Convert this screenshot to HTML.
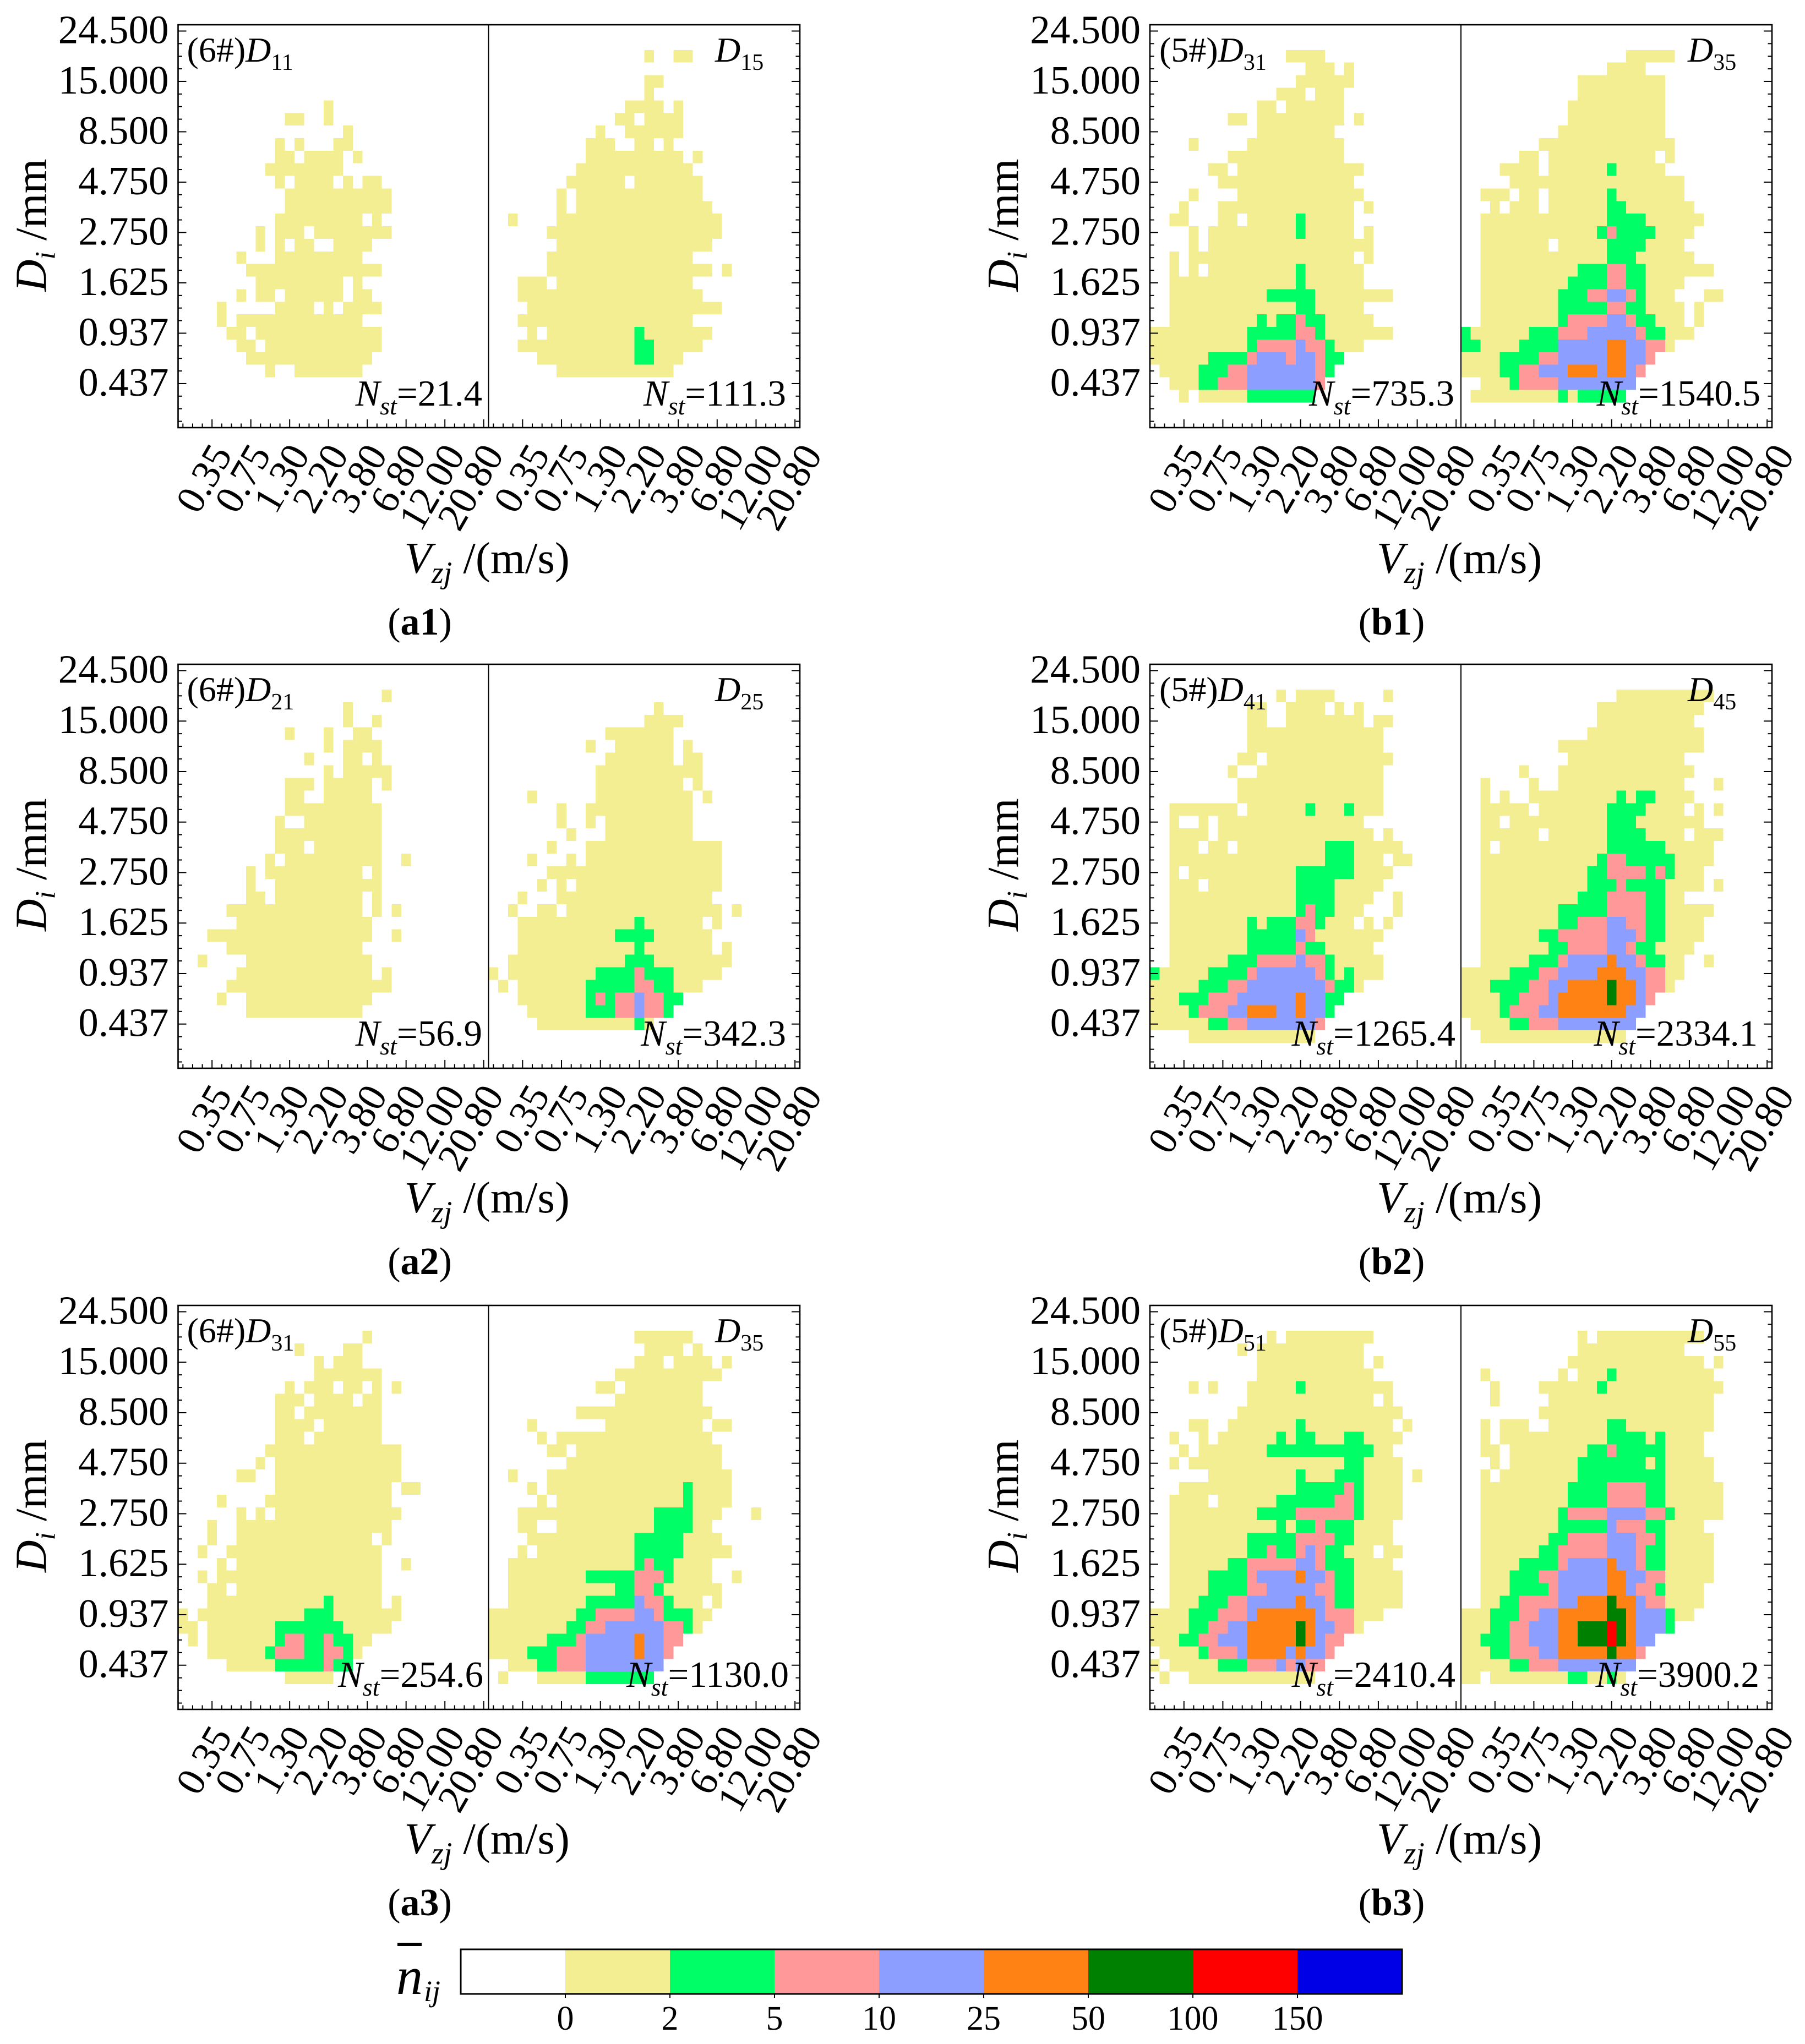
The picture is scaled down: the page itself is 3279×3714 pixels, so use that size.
<!DOCTYPE html>
<html lang="en">
<head>
<meta charset="utf-8">
<title>Raindrop size and velocity spectra</title>
<style>
html,body{margin:0;padding:0;background:#fff}
svg{display:block}
text{font-family:"Liberation Serif",serif;fill:#000}
.it{font-style:italic}
.axt{font-size:81px}
.lab{font-size:70px}
.ann{font-size:64px}
.nst{font-size:67px}
</style>
</head>
<body>
<svg id="figure" width="3279" height="3714" viewBox="0 0 3279 3714">
<rect x="0" y="0" width="3279" height="3714" fill="#fff"/>
<g id="cells"></g>
<g id="axes"></g>

<g transform="translate(323.5,45)">
<text class="axt" transform="translate(-240,485) rotate(-90)"><tspan class="it">D</tspan><tspan class="it" font-size="52" dy="16">i</tspan><tspan dy="-16" dx="20">/mm</tspan></text>
<text class="axt" x="411" y="996"><tspan class="it">V</tspan><tspan class="it" font-size="56" dy="18">zj</tspan><tspan dy="-18" dx="20">/(m/s)</tspan></text>
<text class="lab" x="439" y="1108" text-anchor="middle">(<tspan font-weight="bold">a1</tspan>)</text>
<text class="ann" x="16" y="67">(6#)<tspan class="it">D</tspan><tspan font-size="42" dy="15">11</tspan></text>
<text class="ann" x="975.5" y="67"><tspan class="it">D</tspan><tspan font-size="42" dy="15">15</tspan></text>
<text class="nst" x="552.5" y="692" text-anchor="end"><tspan class="it">N</tspan><tspan class="it" font-size="46" dy="16">st</tspan><tspan dy="-16">=21.4</tspan></text>
<text class="nst" x="1104.5" y="692" text-anchor="end"><tspan class="it">N</tspan><tspan class="it" font-size="46" dy="16">st</tspan><tspan dy="-16">=111.3</tspan></text>
</g>

<g transform="translate(2089,45)">
<text class="axt" transform="translate(-240,485) rotate(-90)"><tspan class="it">D</tspan><tspan class="it" font-size="52" dy="16">i</tspan><tspan dy="-16" dx="20">/mm</tspan></text>
<text class="axt" x="412" y="996"><tspan class="it">V</tspan><tspan class="it" font-size="56" dy="18">zj</tspan><tspan dy="-18" dx="20">/(m/s)</tspan></text>
<text class="lab" x="439" y="1108" text-anchor="middle">(<tspan font-weight="bold">b1</tspan>)</text>
<text class="ann" x="17" y="67">(5#)<tspan class="it">D</tspan><tspan font-size="42" dy="15">31</tspan></text>
<text class="ann" x="977" y="67"><tspan class="it">D</tspan><tspan font-size="42" dy="15">35</tspan></text>
<text class="nst" x="553" y="692" text-anchor="end"><tspan class="it">N</tspan><tspan class="it" font-size="46" dy="16">st</tspan><tspan dy="-16">=735.3</tspan></text>
<text class="nst" x="1109" y="692" text-anchor="end"><tspan class="it">N</tspan><tspan class="it" font-size="46" dy="16">st</tspan><tspan dy="-16">=1540.5</tspan></text>
</g>

<g transform="translate(323.5,1207)">
<text class="axt" transform="translate(-240,485) rotate(-90)"><tspan class="it">D</tspan><tspan class="it" font-size="52" dy="16">i</tspan><tspan dy="-16" dx="20">/mm</tspan></text>
<text class="axt" x="411" y="996"><tspan class="it">V</tspan><tspan class="it" font-size="56" dy="18">zj</tspan><tspan dy="-18" dx="20">/(m/s)</tspan></text>
<text class="lab" x="439" y="1108" text-anchor="middle">(<tspan font-weight="bold">a2</tspan>)</text>
<text class="ann" x="16" y="67">(6#)<tspan class="it">D</tspan><tspan font-size="42" dy="15">21</tspan></text>
<text class="ann" x="975.5" y="67"><tspan class="it">D</tspan><tspan font-size="42" dy="15">25</tspan></text>
<text class="nst" x="552.5" y="693" text-anchor="end"><tspan class="it">N</tspan><tspan class="it" font-size="46" dy="16">st</tspan><tspan dy="-16">=56.9</tspan></text>
<text class="nst" x="1104.5" y="693" text-anchor="end"><tspan class="it">N</tspan><tspan class="it" font-size="46" dy="16">st</tspan><tspan dy="-16">=342.3</tspan></text>
</g>

<g transform="translate(2089,1207)">
<text class="axt" transform="translate(-240,485) rotate(-90)"><tspan class="it">D</tspan><tspan class="it" font-size="52" dy="16">i</tspan><tspan dy="-16" dx="20">/mm</tspan></text>
<text class="axt" x="412" y="996"><tspan class="it">V</tspan><tspan class="it" font-size="56" dy="18">zj</tspan><tspan dy="-18" dx="20">/(m/s)</tspan></text>
<text class="lab" x="439" y="1108" text-anchor="middle">(<tspan font-weight="bold">b2</tspan>)</text>
<text class="ann" x="17" y="67">(5#)<tspan class="it">D</tspan><tspan font-size="42" dy="15">41</tspan></text>
<text class="ann" x="977" y="67"><tspan class="it">D</tspan><tspan font-size="42" dy="15">45</tspan></text>
<text class="nst" x="555" y="693" text-anchor="end"><tspan class="it">N</tspan><tspan class="it" font-size="46" dy="16">st</tspan><tspan dy="-16">=1265.4</tspan></text>
<text class="nst" x="1104" y="693" text-anchor="end"><tspan class="it">N</tspan><tspan class="it" font-size="46" dy="16">st</tspan><tspan dy="-16">=2334.1</tspan></text>
</g>

<g transform="translate(323.5,2372)">
<text class="axt" transform="translate(-240,485) rotate(-90)"><tspan class="it">D</tspan><tspan class="it" font-size="52" dy="16">i</tspan><tspan dy="-16" dx="20">/mm</tspan></text>
<text class="axt" x="411" y="996"><tspan class="it">V</tspan><tspan class="it" font-size="56" dy="18">zj</tspan><tspan dy="-18" dx="20">/(m/s)</tspan></text>
<text class="lab" x="439" y="1108" text-anchor="middle">(<tspan font-weight="bold">a3</tspan>)</text>
<text class="ann" x="16" y="67">(6#)<tspan class="it">D</tspan><tspan font-size="42" dy="15">31</tspan></text>
<text class="ann" x="975.5" y="67"><tspan class="it">D</tspan><tspan font-size="42" dy="15">35</tspan></text>
<text class="nst" x="554.5" y="693" text-anchor="end"><tspan class="it">N</tspan><tspan class="it" font-size="46" dy="16">st</tspan><tspan dy="-16">=254.6</tspan></text>
<text class="nst" x="1109.5" y="693" text-anchor="end"><tspan class="it">N</tspan><tspan class="it" font-size="46" dy="16">st</tspan><tspan dy="-16">=1130.0</tspan></text>
</g>

<g transform="translate(2089,2372)">
<text class="axt" transform="translate(-240,485) rotate(-90)"><tspan class="it">D</tspan><tspan class="it" font-size="52" dy="16">i</tspan><tspan dy="-16" dx="20">/mm</tspan></text>
<text class="axt" x="412" y="996"><tspan class="it">V</tspan><tspan class="it" font-size="56" dy="18">zj</tspan><tspan dy="-18" dx="20">/(m/s)</tspan></text>
<text class="lab" x="439" y="1108" text-anchor="middle">(<tspan font-weight="bold">b3</tspan>)</text>
<text class="ann" x="17" y="67">(5#)<tspan class="it">D</tspan><tspan font-size="42" dy="15">51</tspan></text>
<text class="ann" x="977" y="67"><tspan class="it">D</tspan><tspan font-size="42" dy="15">55</tspan></text>
<text class="nst" x="555" y="693" text-anchor="end"><tspan class="it">N</tspan><tspan class="it" font-size="46" dy="16">st</tspan><tspan dy="-16">=2410.4</tspan></text>
<text class="nst" x="1107" y="693" text-anchor="end"><tspan class="it">N</tspan><tspan class="it" font-size="46" dy="16">st</tspan><tspan dy="-16">=3900.2</tspan></text>
</g>

<g id="colorbar"></g>
<g>
<rect x="722" y="3530" width="44" height="6" fill="#000"/>
<text class="it" x="720" y="3623" font-size="96">n</text>
<text class="it" x="770" y="3636" font-size="54">ij</text>
</g>
</svg>

<script>
const xTickLabels = ["0.35","0.75","1.30","2.20","3.80","6.80","12.00","20.80"];
const yTickLabels = ["24.500","15.000","8.500","4.750","2.750","1.625","0.937","0.437"];
const binLabels = [0,2,5,10,25,50,100,150];
const binColors = ["#ffffff","#f4ee92","#00ff66","#ff9999","#8c9eff","#ff8214","#008000","#ff0000","#0000e6"];

/* Each array: one row per Di class (top = largest), one number per Vzj class; the number is the colour-bin index. Trailing empty cells omitted. */
const a1Left = [[],[],[],[],[],[],
[0,0,0,0,0,0,0,0,0,0,0,0,0,0,0,1],
[0,0,0,0,0,0,0,0,0,0,0,1,1,0,0,1],
[0,0,0,0,0,0,0,0,0,0,0,0,0,0,0,0,0,1],
[0,0,0,0,0,0,0,0,0,0,1,0,1,0,0,0,1,1],
[0,0,0,0,0,0,0,0,0,0,1,1,0,1,1,1,1,0,1],
[0,0,0,0,0,0,0,0,0,1,1,1,1,1,1,1,1],
[0,0,0,0,0,0,0,0,0,0,1,0,1,1,1,1,0,1,0,1,1],
[0,0,0,0,0,0,0,0,0,0,0,1,1,1,1,1,1,1,1,1,1,1],
[0,0,0,0,0,0,0,0,0,0,0,1,1,1,1,1,1,1,1,1,1,1],
[0,0,0,0,0,0,0,0,0,0,1,1,1,1,1,1,1,1,1,0,1],
[0,0,0,0,0,0,0,0,1,0,1,1,1,0,1,1,1,1,1,1,1,1],
[0,0,0,0,0,0,0,0,1,0,1,0,1,1,0,0,1,1,1,1],
[0,0,0,0,0,0,1,0,0,0,1,1,1,1,1,1,1,1,1],
[0,0,0,0,0,0,0,1,1,1,1,1,1,1,1,1,1,1,1,1,1],
[0,0,0,0,0,0,0,0,1,1,1,1,1,1,1,1,1,0,1],
[0,0,0,0,0,0,1,0,1,1,0,1,1,1,1,1,1,0,1,1],
[0,0,0,0,1,0,0,0,0,0,1,1,1,1,0,1,0,1,1,1,1],
[0,0,0,0,1,0,1,1,1,1,1,1,1,1,1,1,1,1,1],
[0,0,0,0,0,1,1,0,1,1,1,1,1,1,1,1,1,1,1,1,1],
[0,0,0,0,0,0,1,1,0,1,1,1,1,1,1,1,1,1,1,1,1],
[0,0,0,0,0,0,0,1,1,1,1,1,1,1,1,1,1,1,1,1],
[0,0,0,0,0,0,0,0,0,1,0,0,1,1,1,1,1,1,1]];

const a1Right = [[],[],
[0,0,0,0,0,0,0,0,0,0,0,0,0,0,0,0,1,0,0,1,1],
[],
[0,0,0,0,0,0,0,0,0,0,0,0,0,0,0,0,1,1],
[0,0,0,0,0,0,0,0,0,0,0,0,0,0,0,0,1],
[0,0,0,0,0,0,0,0,0,0,0,0,0,0,1,1,1,1,0,1],
[0,0,0,0,0,0,0,0,0,0,0,0,0,1,1,0,1,1,1,1],
[0,0,0,0,0,0,0,0,0,0,0,1,0,0,1,1,1,1,1,1],
[0,0,0,0,0,0,0,0,0,0,1,1,1,0,0,1,1,0,1],
[0,0,0,0,0,0,0,0,0,0,1,1,1,1,1,1,1,1,1,1,0,1],
[0,0,0,0,0,0,0,0,0,1,1,1,1,1,1,1,1,1,1,1,1],
[0,0,0,0,0,0,0,0,1,1,1,1,1,1,0,1,1,1,1,1,1,1],
[0,0,0,0,0,0,0,1,0,1,1,1,1,1,1,1,1,1,1,1,1,1],
[0,0,0,0,0,0,0,1,0,1,1,1,1,1,1,1,1,1,1,1,1,1,1],
[0,0,1,0,0,0,0,1,1,1,1,1,1,1,1,1,1,1,1,1,1,1,1,1],
[0,0,0,0,0,0,1,1,1,1,1,1,1,1,1,1,1,1,1,1,1,1,1,1],
[0,0,0,0,0,0,0,1,1,1,1,1,1,1,1,1,1,1,1,1,1,1,1],
[0,0,0,0,0,0,1,1,1,1,1,1,1,1,1,1,1,1,1,1,1],
[0,0,0,0,0,0,1,1,1,1,1,1,1,1,1,1,1,1,1,1,1,1,1,0,1],
[0,0,0,1,1,1,0,1,1,1,1,1,1,1,1,1,1,1,1,1,1],
[0,0,0,1,1,1,1,1,1,1,1,1,1,1,1,1,1,1,1,1,1,1],
[0,0,0,0,1,1,1,1,1,1,1,1,1,1,1,1,1,1,1,1,1,1,1,1],
[0,0,0,1,1,1,1,1,1,1,1,1,1,1,1,1,1,1,1,1,1],
[0,0,0,0,1,0,1,1,1,1,1,1,1,1,1,2,1,1,1,1,1,1,1],
[0,0,0,1,1,1,1,1,1,1,1,1,1,1,1,2,2,1,1,1,1,1],
[0,0,0,0,0,1,1,1,1,1,1,1,1,1,1,2,2,1,1,1],
[0,0,0,0,0,0,0,1,1,1,1,1,1,1,1,1,1,1,1]];

const b1Left = [[],[],
[0,0,0,0,0,0,0,0,0,0,0,0,0,0,1,1,1,1],
[0,0,0,0,0,0,0,0,0,0,0,0,0,0,0,0,1,1,1,0,1],
[0,0,0,0,0,0,0,0,0,0,0,0,0,0,0,1,1,1,1,1,1],
[0,0,0,0,0,0,0,0,0,0,0,0,0,1,1,1,0,1,1,1],
[0,0,0,0,0,0,0,0,0,0,0,1,1,0,1,1,1,1,1,1],
[0,0,0,0,0,0,0,0,1,1,0,1,1,1,1,1,1,1,1,1,0,1],
[0,0,0,0,0,0,0,0,0,0,0,1,1,1,1,1,1,1,1],
[0,0,0,0,1,0,0,0,0,0,1,1,1,1,1,1,1,1,1,1],
[0,0,0,0,0,0,0,0,1,1,1,1,1,1,1,1,1,1,1,1],
[0,0,0,0,0,0,1,1,0,1,1,1,1,1,1,1,1,1,1,1,1,1],
[0,0,0,0,0,0,0,1,1,1,1,1,1,1,1,1,1,1,1,1,1],
[0,0,0,0,1,0,0,0,0,1,1,1,1,1,1,1,1,1,1,1,1,1],
[0,0,0,1,0,0,0,1,1,1,1,1,1,1,1,1,1,1,1,1,1,0,1],
[0,0,1,1,0,0,0,1,1,0,1,1,1,1,1,2,1,1,1,1,1],
[0,0,0,0,1,0,1,1,1,1,1,1,1,1,1,2,1,1,1,1,1,0,1],
[0,0,0,0,1,0,1,1,1,1,1,1,1,1,1,1,1,1,1,1,1,1,1],
[0,0,1,0,1,1,1,1,1,1,1,1,1,1,1,1,1,1,1,1,1,0,1],
[0,0,1,0,1,0,1,1,1,1,1,1,1,1,1,2,1,1,1,1,1,1],
[0,0,1,1,1,1,1,1,1,1,1,1,1,1,1,2,1,1,1,1,1,1],
[0,0,1,1,1,1,1,1,1,1,1,1,2,2,2,2,2,1,1,1,1,1,1,1,1],
[0,0,1,1,1,1,1,1,1,1,1,1,1,1,1,2,2,1,1,1,1,1],
[0,0,1,1,1,1,1,1,1,1,1,2,1,2,2,3,2,2,1,1,1,1,1],
[1,1,1,1,1,1,1,1,1,1,2,2,2,2,2,3,3,2,1,1,1,1,1,1,1],
[1,1,1,1,1,1,1,1,1,1,2,3,3,3,3,4,3,3,2,1,1,1],
[1,1,1,1,1,1,2,2,2,2,3,4,4,4,3,4,4,3,2,2],
[0,1,1,1,1,2,2,2,3,3,4,4,4,4,4,4,4,3,2],
[0,0,1,1,1,2,2,3,3,3,4,4,4,4,4,4,4,3],
[0,0,0,1,0,1,1,1,1,1,2,2,2,2,2,2,2]];

const b1Right = [[],[],
[0,0,0,0,0,0,0,0,0,0,0,0,0,0,0,0,0,1,1,1,1,1],
[0,0,0,0,0,0,0,0,0,0,0,0,0,0,0,1,1,1,1],
[0,0,0,0,0,0,0,0,0,0,0,0,1,1,1,1,1,1,1,1,1],
[0,0,0,0,0,0,0,0,0,0,0,0,1,1,1,1,1,1,1,1,1],
[0,0,0,0,0,0,0,0,0,0,0,1,1,1,1,1,1,1,1,1,1],
[0,0,0,0,0,0,0,0,0,0,0,1,1,1,1,1,1,1,1,1,1],
[0,0,0,0,0,0,0,0,0,0,1,1,1,1,1,1,1,1,1,1,1],
[0,0,0,0,0,0,0,0,1,1,1,1,1,1,1,1,1,1,1,1,1,1],
[0,0,0,0,0,0,1,1,0,1,1,1,1,1,1,1,1,1,1,1,0,1],
[0,0,0,0,1,1,1,1,0,1,1,1,1,1,1,2,1,1,1,1,1],
[0,0,0,0,0,1,1,1,1,1,1,1,1,1,1,1,1,1,1,1,1,1,1],
[0,0,1,1,1,0,1,1,0,1,1,1,1,1,1,2,1,1,1,1,1,1,1],
[0,0,0,1,0,1,1,1,0,1,1,1,1,1,1,2,2,1,1,1,1,1,1,1],
[0,0,1,1,1,1,1,1,1,1,1,1,1,1,1,2,2,2,2,1,1,1,1,1,1],
[0,0,1,1,1,1,1,1,1,1,1,1,1,1,2,3,2,2,2,2,1,1,1,1],
[0,0,1,1,1,1,1,1,1,0,1,1,1,1,1,2,2,2,2,1,1,1,1],
[0,0,1,1,1,1,1,1,1,1,1,1,1,1,1,2,2,2,1,1,1,1,1,1],
[0,0,1,1,1,1,1,1,1,1,1,1,2,2,2,3,3,2,2,1,1,1,1,1,1,1],
[0,0,1,1,1,1,1,1,1,1,1,2,2,2,2,3,3,2,2,1,1,1,1],
[0,0,1,1,1,1,1,1,1,1,2,2,2,3,3,4,4,3,2,1,1,1,0,0,0,1,1],
[0,0,1,1,1,1,1,1,1,1,2,2,2,2,2,3,3,2,2,1,1,1,1,0,1],
[0,0,1,1,1,1,1,1,1,1,2,3,3,3,3,4,4,3,2,2,1,1,1,0,1],
[2,1,1,1,1,1,1,2,2,2,3,3,3,4,4,4,4,4,3,2,2,1,1,1],
[2,2,1,1,1,1,2,2,2,2,4,4,4,4,4,5,5,4,4,3,3,1],
[1,1,1,1,2,2,2,2,3,3,4,4,4,4,4,5,5,4,4,3],
[1,1,1,1,2,2,3,3,4,4,4,5,5,5,4,5,5,4,3],
[0,0,1,1,1,2,3,3,3,3,4,4,4,4,4,4,4,4],
[0,1,1,1,1,1,1,1,1,1,2,1,2,2,2,2,2]];

const a2Left = [[],[],
[0,0,0,0,0,0,0,0,0,0,0,0,0,0,0,0,0,0,0,0,0,1],
[0,0,0,0,0,0,0,0,0,0,0,0,0,0,0,0,0,1],
[0,0,0,0,0,0,0,0,0,0,0,0,0,0,0,0,0,1,0,0,1],
[0,0,0,0,0,0,0,0,0,0,0,1,0,0,0,1,0,0,1,1],
[0,0,0,0,0,0,0,0,0,0,0,0,0,0,0,1,0,1,1,1,1],
[0,0,0,0,0,0,0,0,0,0,0,0,0,1,0,0,0,1,1,0,1],
[0,0,0,0,0,0,0,0,0,0,0,0,0,0,0,1,0,1,1,1,1,1],
[0,0,0,0,0,0,0,0,0,0,0,1,1,1,0,1,1,1,1,1,0,1],
[0,0,0,0,0,0,0,0,0,0,0,1,1,0,0,1,1,1,1,1],
[0,0,0,0,0,0,0,0,0,0,0,1,1,1,1,1,1,1,1,1,1],
[0,0,0,0,0,0,0,0,0,0,1,0,0,1,1,1,1,1,1,1,1],
[0,0,0,0,0,0,0,0,0,0,1,1,1,1,1,1,1,1,1,1,1],
[0,0,0,0,0,0,0,0,0,0,1,1,1,0,1,1,1,1,1,1,1],
[0,0,0,0,0,0,0,0,0,1,0,1,1,1,1,1,1,1,1,1,1,0,0,1],
[0,0,0,0,0,0,0,1,0,1,1,1,1,1,1,1,1,1,1,0,1],
[0,0,0,0,0,0,0,1,0,0,1,1,1,1,1,1,1,1,1,1,1],
[0,0,0,0,0,0,0,1,1,0,1,1,1,1,1,1,1,1,1,0,1],
[0,0,0,0,0,1,1,1,1,1,1,1,1,1,1,1,1,1,1,0,1,0,1],
[0,0,0,0,0,0,1,1,1,1,1,1,1,1,1,1,1,1,1,1],
[0,0,0,1,1,1,1,1,1,1,1,1,1,1,1,1,1,1,1,1,0,0,1],
[0,0,0,0,0,1,1,1,1,1,1,1,1,1,1,1,1,1,1],
[0,0,1,0,0,0,0,1,1,1,1,1,1,1,1,1,1,1,1,1],
[0,0,0,0,0,0,1,1,1,1,1,1,1,1,1,1,1,1,1,1,0,1],
[0,0,0,0,0,1,1,1,1,1,1,1,1,1,1,1,1,1,1,1,1,1],
[0,0,0,0,1,0,0,1,1,1,1,1,1,1,1,1,1,1,1,1],
[0,0,0,0,0,0,0,1,1,1,1,1,1,1,1,1,1,1,1]];

const a2Right = [[],[],[],
[0,0,0,0,0,0,0,0,0,0,0,0,0,0,0,0,0,1],
[0,0,0,0,0,0,0,0,0,0,0,0,0,0,0,0,1,1,1,1],
[0,0,0,0,0,0,0,0,0,0,0,0,1,1,1,1,1,1,1],
[0,0,0,0,0,0,0,0,0,0,1,0,0,1,1,1,1,1,1,0,1],
[0,0,0,0,0,0,0,0,0,0,0,0,1,1,1,1,1,1,1,0,1,1],
[0,0,0,0,0,0,0,0,0,0,0,1,1,1,1,1,1,1,1,1,1,1],
[0,0,0,0,0,0,0,0,0,0,0,1,1,1,1,1,1,1,1,1,0,1],
[0,0,0,0,1,0,0,0,0,0,0,1,1,1,1,1,1,1,1,1,1,0,1],
[0,0,0,0,0,0,0,1,0,0,1,1,1,1,1,1,1,1,1,1,1],
[0,0,0,0,0,0,0,1,0,0,1,0,1,1,1,1,1,1,1,1,1],
[0,0,0,0,0,0,0,0,1,0,0,0,1,1,1,1,1,1,1,1,1],
[0,0,0,0,0,0,1,0,0,0,1,1,1,1,1,1,1,1,1,1,1,1,1,1],
[0,0,0,0,1,0,0,0,1,0,1,1,1,1,1,1,1,1,1,1,1,1,1,1],
[0,0,0,0,0,0,1,1,1,1,1,1,1,1,1,1,1,1,1,1,1,1,1,1],
[0,0,0,0,0,1,0,1,0,1,1,1,1,1,1,1,1,1,1,1,1,1,1,1],
[0,0,0,1,0,0,0,1,1,1,1,1,1,1,1,1,1,1,1,1,1,1,1],
[0,0,1,0,0,1,1,0,1,1,1,1,1,1,1,1,1,1,1,1,1,1,1,1,0,1],
[0,0,0,1,1,1,1,1,1,1,1,1,1,1,1,2,1,1,1,1,1,1,0,1],
[0,0,0,1,1,1,1,1,1,1,1,1,1,2,2,2,2,1,1,1,1,1,1],
[0,0,0,1,1,1,1,1,1,1,1,1,1,1,1,2,1,1,1,1,1,1,1,0,1],
[0,0,1,1,1,1,1,1,1,1,1,1,1,1,2,2,2,1,1,1,1,1,1,1,1],
[1,0,1,1,1,1,1,1,1,1,1,2,2,2,2,3,2,2,2,1,1,1,1,1],
[0,1,0,1,1,1,1,1,1,1,2,2,2,2,2,3,3,2,2,1,1,1],
[0,0,0,1,1,1,1,1,1,1,2,3,2,3,3,4,3,3,2,2],
[0,0,0,0,1,1,1,1,1,1,2,2,2,3,3,4,3,3,2],
[0,0,0,0,0,1,1,1,1,1,1,1,1,1,1,2,1]];

const b2Left = [[],[],
[0,0,0,0,0,0,0,0,0,0,0,0,0,1,0,1,1,1,1,0,0,0,0,0,1],
[0,0,0,0,0,0,0,0,0,0,1,1,0,0,1,1,1,1,0,1,0,1],
[0,0,0,0,0,0,0,0,0,0,1,1,0,0,1,1,1,1,1,1,1,1,0,1,1],
[0,0,0,0,0,0,0,0,0,0,1,1,1,1,1,1,1,1,1,1,1,1,1,1],
[0,0,0,0,0,0,0,0,0,0,1,1,1,1,1,1,1,1,1,1,1,1,1,1],
[0,0,0,0,0,0,0,0,0,1,1,0,1,1,1,1,1,1,1,1,1,1,1,1,1],
[0,0,0,0,0,0,0,0,1,0,0,1,1,1,1,1,1,1,1,1,1,1,1,1],
[0,0,0,0,0,0,0,0,0,1,1,1,1,1,1,1,1,1,1,1,1,1,1,1],
[0,0,0,0,0,0,0,0,0,1,1,1,1,1,1,1,1,1,1,1,1,1,1,1],
[0,0,1,1,1,1,1,1,1,0,1,1,1,1,1,1,2,1,1,1,2,1,1,1],
[0,0,1,0,0,1,0,1,1,1,1,1,1,1,1,1,1,1,1,1,1,1],
[0,0,1,1,1,1,0,1,1,1,1,1,1,1,1,1,1,1,1,1,1,1,1,0,1],
[0,0,1,1,1,0,1,1,0,1,1,1,1,1,1,1,1,1,2,2,2,1,1,1,1,1],
[0,0,1,1,1,1,1,1,1,1,1,1,1,1,1,1,1,1,2,2,2,1,1,1,0,1,1],
[0,0,1,0,1,1,1,1,1,1,1,1,1,1,1,2,2,2,2,2,2,1,1,1,1],
[0,0,1,1,1,0,1,1,1,1,1,1,1,1,1,2,2,2,2,1,1,1,1,1],
[0,0,1,1,1,1,1,1,1,1,1,1,1,1,1,2,2,2,2,1,1,1,1,0,0,1],
[0,0,1,1,1,1,1,1,1,1,1,1,1,1,1,2,3,2,2,1,1,1,0,0,0,1],
[0,0,1,1,1,1,1,1,1,1,2,1,2,2,2,3,3,2,1,1,1,0,1,0,1],
[0,0,1,1,1,1,1,1,1,1,2,2,2,2,2,4,3,1,1,1,1,1,1,1],
[0,0,1,1,1,1,1,1,1,1,2,2,2,2,2,3,2,2,1,1,1,1,1],
[0,0,1,1,1,1,1,1,2,2,2,3,3,3,3,4,3,3,2,1,1,1,1,1],
[2,1,1,1,1,1,2,2,2,2,3,4,4,4,4,4,4,3,2,1,2,1,1,1],
[1,1,1,1,1,2,2,2,3,3,4,4,4,4,4,4,4,4,3,2,2,1],
[1,1,1,2,2,2,3,3,3,4,4,4,4,4,4,5,4,4,2,2],
[1,1,1,1,2,3,3,3,4,4,5,5,5,4,4,5,4,4,2],
[1,1,1,1,1,1,2,2,3,3,4,4,4,4,4,4,4,3],
[0,0,0,0,1,1,1,1,1,1,1,1,1,1,1,1,1]];

const b2Right = [[],[],
[0,0,0,0,0,0,0,0,0,0,0,0,0,0,0,0,1,1,1,1,1,1,1,1,1,1],
[0,0,0,0,0,0,0,0,0,0,0,0,0,0,1,1,1,1,1,1,1,1,1,1,1],
[0,0,0,0,0,0,0,0,0,0,0,0,0,0,1,1,1,1,1,1,1,1,1,1],
[0,0,0,0,0,0,0,0,0,0,0,0,0,1,1,1,1,1,1,1,1,1,1,1,1],
[0,0,0,0,0,0,0,0,0,0,1,1,1,1,1,1,1,1,1,1,1,1,1,1,1],
[0,0,0,0,0,0,0,0,0,0,0,1,1,1,1,1,1,1,1,1,1,1,1],
[0,0,0,0,0,0,1,0,0,0,1,1,1,1,1,1,1,1,1,1,1,1,1,1],
[0,0,1,0,0,0,0,1,0,0,1,1,1,1,1,1,1,1,1,1,1,1,1,0,0,0,1],
[0,0,1,0,1,0,0,1,1,1,1,1,1,1,1,1,2,1,2,2,1,1,1,1],
[0,0,1,1,1,1,1,0,1,1,1,1,1,1,1,2,2,2,2,1,1,1,1,0,1,0,1],
[0,0,1,1,0,1,1,1,1,1,1,1,1,1,1,2,2,2,1,1,1,1,1,1,1],
[0,0,1,1,1,1,1,1,0,1,1,1,1,1,1,2,2,2,2,1,1,1,1,0,1,1,1],
[0,0,1,0,1,1,1,1,1,1,1,1,1,1,1,2,2,2,2,2,2,1,1,1,1,1],
[0,0,1,1,1,1,1,1,1,1,1,1,1,1,2,3,3,2,2,2,2,2,1,1,1,1],
[0,0,1,1,1,1,1,1,1,1,1,1,1,2,2,3,3,3,3,2,3,2,1,1,1],
[0,0,1,1,1,1,1,1,1,1,1,1,1,2,2,2,3,2,2,2,2,1,1,1,1,0,1],
[0,0,1,1,1,1,1,1,1,1,1,1,2,2,2,3,3,3,3,2,2,1,1],
[0,0,1,1,1,1,1,1,1,1,2,2,2,2,2,3,3,3,3,2,2,1,1,1,1,1],
[0,0,1,1,1,1,1,1,1,1,2,2,3,3,3,4,4,3,3,2,2,1,1,1,1],
[0,0,1,1,1,1,1,1,2,2,3,3,3,3,3,4,4,4,3,2,2,1,1,1,1],
[0,0,1,1,1,1,1,1,1,2,2,3,3,3,3,4,4,3,2,2,1,1,1,1],
[0,0,1,1,1,1,1,2,2,2,3,4,4,4,4,5,4,4,3,2,2,1,1,0,0,1],
[1,1,1,1,1,2,2,2,3,3,4,4,4,4,5,5,5,4,4,3,3,1,1],
[1,1,1,2,2,2,2,3,3,4,4,5,5,5,5,6,5,5,4,3,3,1],
[1,1,1,1,2,2,3,3,3,4,5,5,5,5,5,6,5,5,4,3],
[1,1,1,1,2,3,3,3,4,4,5,5,5,5,5,5,5,4,4],
[0,1,1,1,1,2,2,3,3,3,4,4,4,4,4,4,4,4],
[0,0,1,1,1,1,1,1,1,1,1,1,1,1,1,1,1]];

const a3Left = [[],[],
[0,0,0,0,0,0,0,0,0,0,0,0,0,0,0,0,0,0,0,1],
[0,0,0,0,0,0,0,0,0,0,0,0,1,0,0,0,0,1,1],
[0,0,0,0,0,0,0,0,0,0,0,0,0,0,1,0,1,1,1],
[0,0,0,0,0,0,0,0,0,0,0,0,0,0,1,1,1,1,1,1,1],
[0,0,0,0,0,0,0,0,0,0,0,1,0,1,1,1,0,1,1,0,1,0,1],
[0,0,0,0,0,0,0,0,0,0,1,1,1,0,1,1,1,1,0,1,1],
[0,0,0,0,0,0,0,0,0,0,1,1,0,1,1,1,1,1,1,1,1],
[0,0,0,0,0,0,0,0,0,0,1,1,1,1,0,1,1,1,1,1,1],
[0,0,0,0,0,0,0,0,0,0,1,1,1,0,1,1,1,1,1,1,1],
[0,0,0,0,0,0,0,0,0,1,1,1,1,1,1,1,1,1,1,1,1,1,1],
[0,0,0,0,0,0,0,0,1,0,1,1,1,1,1,1,1,1,1,1,1,1,1],
[0,0,0,0,0,0,1,1,0,0,1,1,1,1,1,1,1,1,1,1,1,1,1],
[0,0,0,0,0,0,0,0,0,0,1,1,1,1,1,1,1,1,1,1,1,1,0,1,1],
[0,0,0,0,1,0,0,0,0,1,1,1,1,1,1,1,1,1,1,1,1,1],
[0,0,0,0,0,0,1,0,1,0,1,1,1,1,1,1,1,1,1,1,1,1,1],
[0,0,0,1,0,0,1,1,1,1,1,1,1,1,1,1,1,1,1,1,1,1],
[0,0,0,1,0,0,1,1,1,1,1,1,1,1,1,1,1,1,1,1,0,1],
[0,0,1,0,0,1,1,1,1,1,1,1,1,1,1,1,1,1,1,1,1],
[0,0,0,0,1,0,1,1,1,1,1,1,1,1,1,1,1,1,1,1,1,0,0,1],
[0,0,1,0,1,1,1,1,1,1,1,1,1,1,1,1,1,1,1,1,1],
[0,0,0,1,1,0,1,1,1,1,1,1,1,1,1,1,1,1,1,1,1],
[0,0,0,1,1,1,1,1,1,1,1,1,1,1,1,2,1,1,1,1,1,0,1],
[1,0,1,1,1,1,1,1,1,1,1,1,1,2,2,2,1,1,1,1,1,1,1],
[1,1,0,1,1,1,1,1,1,1,2,2,2,2,2,2,2,1,1,1,1,1],
[0,1,0,1,1,1,1,1,1,1,2,3,3,2,2,3,2,2,1,1],
[0,0,0,1,1,1,1,1,1,2,3,3,3,2,2,3,3,2,1],
[0,0,0,0,0,1,1,1,1,1,2,2,2,2,2,3,2,2],
[0,0,0,0,0,0,0,0,0,0,0,1,1,1,1,1]];

const a3Right = [[],[],
[0,0,0,0,0,0,0,0,0,0,0,0,0,0,0,1,1,1,1,1,1],
[0,0,0,0,0,0,0,0,0,0,0,0,0,0,0,0,1,1,1,1,0,1],
[0,0,0,0,0,0,0,0,0,0,0,0,0,0,0,1,1,1,0,1,1,1,1,0,1],
[0,0,0,0,0,0,0,0,0,0,0,0,0,1,1,1,1,1,1,1,1,1,1,1],
[0,0,0,0,0,0,0,0,0,0,0,1,1,0,1,1,1,1,1,1,1,1],
[0,0,0,0,0,0,0,0,0,0,0,0,0,1,1,1,1,1,1,1,1,1],
[0,0,0,0,0,0,0,0,0,1,1,1,1,1,1,1,1,1,1,1,1,1,1],
[0,0,0,0,1,0,0,0,0,0,0,0,1,1,1,1,1,1,1,1,1,1,0,1,1],
[0,0,0,0,0,1,0,1,1,1,1,1,1,1,1,1,1,1,1,1,1,1,1],
[0,0,0,0,0,0,1,1,0,1,1,1,1,1,1,1,1,1,1,1,1,1,1,1],
[0,0,0,0,0,0,0,0,1,1,1,1,1,1,1,1,1,1,1,1,1,1,1,1],
[0,0,1,0,0,0,1,1,1,1,1,1,1,1,1,1,1,1,1,1,1,1,1,1,1],
[0,0,0,0,1,0,1,1,1,1,1,1,1,1,1,1,1,1,1,1,2,1,1,1,1],
[0,0,0,0,0,1,0,1,1,1,1,1,1,1,1,1,1,1,1,1,2,1,1,1,1],
[0,0,0,1,1,1,1,1,1,1,1,1,1,1,1,1,1,2,2,2,2,1,1,1,0,0,0,1],
[0,0,0,1,1,0,0,1,1,1,1,1,1,1,1,1,1,2,2,2,2,1,1],
[0,0,0,0,1,1,1,1,1,1,1,1,1,1,1,2,2,2,2,2,1,1,1,1],
[0,0,0,1,0,1,1,1,1,1,1,1,1,1,1,2,2,2,2,2,1,1,1,1,1],
[0,0,1,1,1,1,1,1,1,1,1,1,1,1,1,2,3,2,2,1,1,1,1],
[0,0,1,1,1,1,1,1,1,1,2,2,2,2,2,3,3,3,2,1,1,1,1,0,0,1],
[0,0,1,1,1,1,1,1,1,1,1,1,1,2,2,3,3,2,1,1,1,1,1,1],
[0,0,1,1,1,1,1,1,1,1,2,2,2,2,2,4,3,3,2,1,1,1,0,1],
[1,1,1,1,1,1,1,1,1,2,2,3,3,3,3,4,4,3,2,2,2,1,1],
[1,1,1,1,1,1,1,1,2,2,3,3,4,4,4,4,4,4,3,3,2,1],
[1,1,1,1,1,1,2,2,2,3,4,4,4,4,4,5,4,4,3,3],
[1,1,1,1,2,2,2,3,3,3,4,4,4,4,4,5,4,4,3],
[0,0,1,1,1,2,2,3,3,3,4,4,4,4,4,4,4,4],
[0,1,0,0,0,1,1,1,1,1,2,2,2,2,2,2,2]];

const b3Left = [[],[],
[0,0,0,0,0,0,0,0,0,0,0,0,1,0,1,1,1,1,1,1,1,1,1],
[0,0,0,0,0,0,0,0,0,1,0,1,1,1,1,1,1,1,1,1,1,1],
[0,0,0,0,0,0,0,0,0,0,0,1,1,1,1,1,1,1,1,1,1,1,0,1],
[0,0,0,0,0,0,0,0,0,0,0,1,1,1,1,1,1,1,1,1,1,1,1],
[0,0,0,0,1,0,1,0,0,0,1,1,1,1,1,2,1,1,1,1,1,1,1,1,1],
[0,0,0,0,0,0,0,0,0,0,1,1,1,1,1,1,1,1,1,1,1,1,1,0,1],
[0,0,0,0,0,0,0,0,0,1,1,1,1,1,1,1,1,1,1,1,1,1,1,1,1,1],
[0,0,0,0,1,1,0,0,1,1,1,1,1,1,1,2,1,1,1,1,1,1,1,1,1,0,1],
[0,0,1,0,0,1,0,1,1,1,1,1,1,2,1,2,2,1,1,1,2,2,1,1,1,1],
[0,0,0,1,0,1,1,1,1,1,1,1,2,2,2,2,2,2,2,2,2,2,2,1,1],
[0,0,1,0,1,1,1,1,1,1,1,1,1,1,1,1,1,1,1,1,2,2,1,1,1,1],
[0,0,0,0,0,0,1,1,1,1,1,1,1,1,1,2,1,1,1,2,2,2,1,1,1,1,0,1],
[0,0,0,1,1,1,1,1,1,1,1,1,1,1,1,2,2,2,2,2,3,2,1,1,1,1],
[0,0,1,1,1,1,0,1,1,1,1,1,1,2,2,2,2,2,2,3,3,2,1,1,1,1],
[0,0,1,1,1,1,1,1,1,1,1,2,2,2,2,3,3,3,3,3,3,2,1,1,1,1],
[0,0,1,1,1,1,1,1,1,1,1,1,1,2,1,2,2,3,2,2,2,1,1,1,1],
[0,0,1,1,1,1,1,1,1,1,2,2,2,2,2,3,3,3,3,2,2,1,1,1,1],
[0,0,1,1,1,1,1,1,1,1,2,2,3,2,2,3,4,3,2,2,1,1,1,0,1,1],
[0,0,1,1,1,1,1,1,2,2,3,3,3,3,3,4,4,3,2,2,2,1,1,1,1],
[0,0,1,1,1,1,2,2,2,2,3,4,4,4,4,5,4,4,3,2,2,1,1,1,1,1],
[0,0,1,1,1,1,2,2,2,2,3,3,4,4,4,4,4,3,3,2,2,1,1,1,1,1],
[0,0,1,1,1,2,2,2,3,3,4,4,4,4,4,5,4,4,3,2,2,1,1,1,1,1],
[1,1,1,1,2,2,2,3,3,3,4,5,5,5,5,5,5,4,3,3,3,1,1,1],
[1,1,1,1,2,2,3,3,4,4,5,5,5,5,5,6,5,4,4,3,3,1],
[1,1,1,2,2,3,3,4,4,4,5,5,5,5,5,6,5,4,3,3],
[0,1,1,1,1,2,3,3,3,4,5,5,5,5,4,5,4,4,3],
[1,0,1,1,1,1,1,2,2,2,3,3,3,4,3,4,3,3],
[0,1,0,0,1,1,1,1,1,1,1,1,1,1,1,1,1]];

const b3Right = [[],[],
[0,0,0,0,0,0,0,0,0,0,0,0,1,0,1,1,1,1,1,1,1,1,1,1,1],
[0,0,0,0,0,0,0,0,0,0,0,0,1,1,1,1,1,1,1,1,1,1,1],
[0,0,0,0,0,0,0,0,0,0,0,1,1,1,1,1,1,1,1,1,1,1,1,1,1,0,1],
[0,0,1,0,0,0,0,0,0,0,1,0,1,1,1,2,1,1,1,1,1,1,1,1,1,1],
[0,0,0,1,0,0,0,0,1,1,1,1,1,1,2,1,1,1,1,1,1,1,1,1,1,1,1],
[0,0,0,1,0,0,0,0,0,1,1,1,1,1,1,1,1,1,1,1,1,1,1,1,1,1],
[0,0,0,0,0,0,0,0,1,1,1,1,1,1,1,1,1,1,1,1,1,1,1,1,1,1],
[0,0,1,0,1,1,1,0,0,1,1,1,1,1,1,2,2,1,1,1,1,1,1,1,1,1],
[0,0,1,0,1,1,1,1,1,1,1,1,1,1,1,2,2,2,2,1,2,1,1,1,1],
[0,0,1,1,0,1,1,1,1,1,1,1,1,2,2,3,2,2,2,2,2,1,1,1,1],
[0,0,0,1,0,1,1,1,1,1,1,1,2,2,2,2,2,2,2,1,2,1,1,1,1,1],
[0,0,1,0,1,1,1,1,1,1,1,1,2,2,2,2,2,2,2,2,2,1,1,1,1,1],
[0,0,1,1,1,1,1,1,1,1,1,2,2,2,2,3,3,3,3,2,2,1,1,1,1,1,1],
[0,0,1,1,1,1,1,1,1,1,1,2,2,2,2,3,3,3,3,2,2,1,1,1,1,1,1],
[0,0,1,1,1,1,1,1,1,1,2,3,3,3,3,4,4,4,4,3,3,2,1,1,1,1,1],
[0,0,1,1,1,1,1,1,1,1,2,2,2,2,2,4,3,3,3,2,2,1,1,1,1],
[0,0,1,1,1,1,1,1,1,2,2,3,3,3,3,4,4,4,3,3,2,1,1,1,1,1],
[0,0,1,1,1,1,1,1,2,2,3,3,3,3,3,4,4,4,3,2,2,1,1,1,1,1],
[0,0,1,1,1,1,2,2,2,2,3,4,4,4,4,5,4,4,3,2,2,1,1,1,1,1],
[0,0,1,1,1,2,2,2,3,3,4,4,4,4,4,5,5,4,4,3,3,1,1,1,1,1],
[0,0,1,1,1,2,2,2,2,3,4,4,4,4,4,5,5,4,3,3,2,1,1,1,1],
[0,0,1,1,2,2,3,3,3,3,4,4,5,5,5,6,5,5,4,3,3,1,1,1,1],
[1,1,1,2,2,2,3,3,4,4,5,5,5,5,5,6,6,5,4,4,4,2,1,1],
[1,1,1,2,2,3,3,4,4,4,5,5,6,6,6,7,6,5,4,4,4,2],
[1,1,2,2,2,3,3,4,4,4,5,5,6,6,6,7,6,5,4,4],
[1,1,1,2,2,3,3,3,4,4,5,5,5,5,5,6,5,5,3],
[1,1,1,1,1,2,2,3,3,3,4,4,4,4,4,4,4,4],
[1,1,0,1,1,1,1,1,1,1,1,2,2,1,1,2,1]];

const panels = [
  {id:'a1',x0:323.5,xm:887.5,xr:1453,y0:45,y1:777,left:a1Left,right:a1Right},
  {id:'b1',x0:2089,xm:2654,xr:3219,y0:45,y1:777,left:b1Left,right:b1Right},
  {id:'a2',x0:323.5,xm:887.5,xr:1453,y0:1207,y1:1941,left:a2Left,right:a2Right},
  {id:'b2',x0:2089,xm:2654,xr:3219,y0:1207,y1:1941,left:b2Left,right:b2Right},
  {id:'a3',x0:323.5,xm:887.5,xr:1453,y0:2372,y1:3106,left:a3Left,right:a3Right},
  {id:'b3',x0:2089,xm:2654,xr:3219,y0:2372,y1:3106,left:b3Left,right:b3Right}
];

const GRID = 32;
const TICK_STEP = 4;
const svgNS = document.getElementById('figure').namespaceURI;
const cellLayer = document.getElementById('cells');
const axisLayer = document.getElementById('axes');
const barLayer = document.getElementById('colorbar');

function make(tag, attrs, parent){
  const el = document.createElementNS(svgNS, tag);
  for (const k in attrs) el.setAttribute(k, attrs[k]);
  parent.appendChild(el);
  return el;
}
function xScale(a, b, col){ return a + (b - a) * col / GRID; }
function yScale(p, row){ return p.y0 + (p.y1 - p.y0) * row / GRID; }

function drawCells(p, a, b, rows, side){
  rows.forEach(function(row, r){
    row.forEach(function(level, c){
      if (!level) return;
      const x1 = xScale(a, b, c), x2 = xScale(a, b, c + 1);
      const y1 = yScale(p, r), y2 = yScale(p, r + 1);
      const el = make('rect', {x:x1, y:y1, width:x2 - x1, height:y2 - y1, fill:binColors[level], 'shape-rendering':'crispEdges'}, cellLayer);
      
      
    });
  });
}

function drawAxes(p){
  const frame = make('rect', {x:p.x0, y:p.y0, width:p.xr - p.x0, height:p.y1 - p.y0, fill:'none', stroke:'#000', 'stroke-width':2.6}, axisLayer);
  
  
  const divider = make('line', {x1:p.xm, x2:p.xm, y1:p.y0, y2:p.y1, stroke:'#000', 'stroke-width':2}, axisLayer);
  
  

  for (let r = 0; r < GRID; r++){
    const y = yScale(p, r + 0.5);
    const major = r % TICK_STEP === 0;
    const len = major ? 15 : 7.5;
    const lt = make('line', {x1:p.x0, x2:p.x0 + len, y1:y, y2:y, stroke:'#000', 'stroke-width':2}, axisLayer);
    
    
    const rt = make('line', {x1:p.xr, x2:p.xr - len, y1:y, y2:y, stroke:'#000', 'stroke-width':2}, axisLayer);
    
    
    if (major){
      const t = make('text', {x:p.x0 - 17, y:y + 22, 'text-anchor':'end', 'font-size':73}, axisLayer);
      t.textContent = yTickLabels[r / TICK_STEP];
      
      
    }
  }
  [[p.x0, p.xm, 38],[p.xm, p.xr, 51]].forEach(function(span){
    for (let c = 0; c < GRID; c++){
      const x = xScale(span[0], span[1], c + 0.5);
      const major = c % TICK_STEP === TICK_STEP - 1;
      const len = major ? 15 : 7.5;
      const tk = make('line', {x1:x, x2:x, y1:p.y1, y2:p.y1 - len, stroke:'#000', 'stroke-width':2}, axisLayer);
      
      
      if (major){
        const lx = x + span[2], ly = p.y1 + 49;
        const t = make('text', {x:lx, y:ly, 'text-anchor':'end', 'font-size':73, transform:'rotate(-60 ' + lx + ' ' + ly + ')'}, axisLayer);
        t.textContent = xTickLabels[(c + 1) / TICK_STEP - 1];
        
        
      }
    }
  });
}

panels.forEach(function(p){
  drawCells(p, p.x0, p.xm, p.left, 'left');
  drawCells(p, p.xm, p.xr, p.right, 'right');
  drawAxes(p);
});

const barLeft = 837, barRight = 2547, barTop = 3542, barBottom = 3623;
const segW = (barRight - barLeft) / binColors.length;
function barX(i){ return barLeft + i * segW; }
binColors.forEach(function(color, i){
  const s = make('rect', {x:barX(i), y:barTop, width:segW + 0.5, height:barBottom - barTop, fill:color}, barLayer);
  
  
});
const barFrame = make('rect', {x:barLeft, y:barTop, width:barRight - barLeft, height:barBottom - barTop, fill:'none', stroke:'#000', 'stroke-width':3}, barLayer);


binLabels.forEach(function(label, i){
  const x = barX(i + 1);
  const tk = make('line', {x1:x, x2:x, y1:barBottom, y2:barBottom + 7, stroke:'#000', 'stroke-width':2}, barLayer);
  
  
  const t = make('text', {x:x, y:3688, 'text-anchor':'middle', 'font-size':62}, barLayer);
  t.textContent = label;
  
  
});
</script>
</body>
</html>
